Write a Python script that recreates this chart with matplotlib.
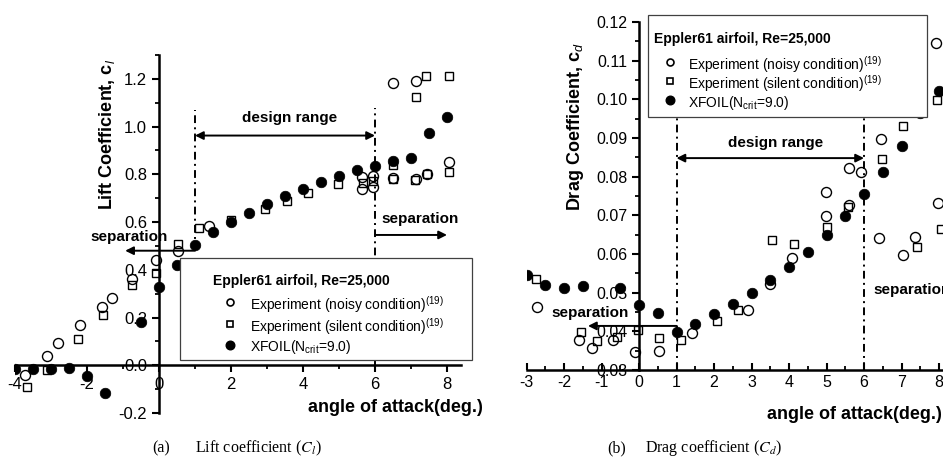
import matplotlib.pyplot as plt
from matplotlib.lines import Line2D
from matplotlib.patches import Rectangle
from matplotlib.ticker import MultipleLocator, FormatStrFormatter

plt.rcParams['font.family'] = ['Liberation Sans', 'DejaVu Sans']
plt.rcParams['mathtext.fontset'] = 'custom'
plt.rcParams['mathtext.rm'] = 'Liberation Sans'
plt.rcParams['mathtext.it'] = 'Liberation Sans:italic'
plt.rcParams['mathtext.bf'] = 'Liberation Sans:bold'

# Lift coefficient
cl_noisy_aoa = [-3.72, -3.1, -2.8, -2.2, -1.57, -1.3, -0.76, -0.08, 0.53, 1.38,
                5.65, 5.65, 5.95, 5.95, 6.5, 6.5, 7.13, 7.13, 7.44, 8.05]
cl_noisy = [-0.04, 0.04, 0.095, 0.167, 0.245, 0.28, 0.36, 0.44, 0.48, 0.585,
            0.79, 0.74, 0.795, 0.745, 1.183, 0.785, 1.19, 0.78, 0.80, 0.85]
cl_silent_aoa = [-3.67, -3.12, -2.24, -1.55, -0.76, -0.07, 0.53, 1.12, 2.0, 2.94,
                 3.55, 4.15, 4.98, 5.67, 5.95, 6.5, 6.5, 7.1, 7.13, 7.42, 7.44, 8.06, 8.06]
cl_silent = [-0.09, -0.02, 0.11, 0.21, 0.335, 0.385, 0.51, 0.575, 0.61, 0.655,
             0.69, 0.72, 0.76, 0.765, 0.77, 0.84, 0.78, 0.775, 1.125, 1.21, 0.80, 1.21, 0.81]
cl_xfoil_aoa = [-4, -3.5, -3, -2.5, -2, -1.5, -0.5, 0, 0.5, 1, 1.5, 2,
                2.5, 3, 3.5, 4, 4.5, 5, 5.5, 6, 6.5, 7, 7.5, 8]
cl_xfoil = [-0.017, -0.017, -0.015, -0.012, -0.045, -0.115, 0.18, 0.33, 0.42, 0.505, 0.56, 0.60,
            0.638, 0.675, 0.71, 0.74, 0.767, 0.793, 0.817, 0.835, 0.855, 0.87, 0.975, 1.04]

# Drag coefficient
cd_noisy_aoa = [-2.73, -1.6, -1.25, -0.7, -0.1, 0.53, 1.42, 2.9, 3.5, 4.08, 4.99,
                4.99, 5.6, 5.6, 5.92, 6.45, 6.4, 7.04, 7.36, 7.93, 7.97]
cd_noisy = [0.0463, 0.0378, 0.0357, 0.0378, 0.0347, 0.0350, 0.0396, 0.0455, 0.0522, 0.0589, 0.0698,
            0.0760, 0.0822, 0.0727, 0.0812, 0.0897, 0.0641, 0.0597, 0.0644, 0.1146, 0.0732]
cd_silent_aoa = [-2.76, -1.55, -1.12, -0.58, -0.03, 0.53, 1.12, 2.08, 2.64, 3.55,
                 4.12, 5.0, 5.57, 6.47, 7.04, 7.4, 7.95, 8.05]
cd_silent = [0.0535, 0.0398, 0.0375, 0.0385, 0.0403, 0.0383, 0.0378, 0.0427, 0.0455, 0.0636,
             0.0626, 0.0670, 0.0722, 0.0846, 0.0931, 0.0617, 0.0998, 0.0665]
cd_xfoil_aoa = [-3, -2.5, -2, -1.5, -0.5, 0, 0.5, 1, 1.5, 2, 2.5,
                3, 3.5, 4, 4.5, 5, 5.5, 6, 6.5, 7, 7.5, 8]
cd_xfoil = [0.0546, 0.0521, 0.0513, 0.0517, 0.0512, 0.0467, 0.0447, 0.0399, 0.0419, 0.0445, 0.0470,
            0.0499, 0.0533, 0.0566, 0.0605, 0.0650, 0.0697, 0.0755, 0.0813, 0.0880, 0.0965, 0.1022]

legend_title = 'Eppler61 airfoil, Re=25,000'
legend_labels = ['Experiment (noisy condition)$^{(19)}$',
                 'Experiment (silent condition)$^{(19)}$',
                 'XFOIL(N$_{\\mathrm{crit}}$=9.0)']

W, H = 943, 468
fig = plt.figure(figsize=(W / 100, H / 100), dpi=100)


def fig_xy(px, py):
    return px / W, 1 - py / H


noisy_style = dict(ls='none', marker='o', ms=7.2, mfc='none', mec='k', mew=1.0)
silent_style = dict(ls='none', marker='s', ms=6.3, mfc='none', mec='k', mew=1.0)
xfoil_style = dict(ls='none', marker='o', ms=7.6, mfc='k', mec='k', mew=0.5)
key_styles = [dict(ls='none', marker='o', ms=5, mfc='none', mec='k', mew=1.2),
              dict(ls='none', marker='s', ms=4.6, mfc='none', mec='k', mew=1.2),
              dict(ls='none', marker='o', ms=6.2, mfc='k', mec='k')]


def style_axes(ax):
    for side in ('top', 'right'):
        ax.spines[side].set_visible(False)
    for side in ('left', 'bottom'):
        ax.spines[side].set_linewidth(1.8)
    ax.tick_params(which='major', width=1.5, length=5, labelsize=12)
    ax.tick_params(which='minor', width=1.3, length=3)


def dashdot(ax, x, y0, y1):
    ax.plot([x, x], [y0, y1], color='k', lw=1.4, ls=(0, (4, 2.2, 1, 2.2)))


def arrow(ax, x0, x1, y, both=False):
    ax.annotate('', xy=(x1, y), xytext=(x0, y),
                arrowprops=dict(arrowstyle='<|-|>' if both else '-|>', color='k', lw=1.4,
                                shrinkA=0, shrinkB=0, mutation_scale=12))


def draw_key(box, title_at, marker_x, text_x, rows_y, fs=10):
    x0, y0, x1, y1 = box
    fx0, fy0 = fig_xy(x0, y1)
    fig.add_artist(Rectangle((fx0, fy0), (x1 - x0) / W, (y1 - y0) / H,
                             transform=fig.transFigure, fc='white', ec='0.25', lw=0.9, zorder=10))
    tx, ty = fig_xy(*title_at)
    fig.text(tx, ty, legend_title, fontsize=fs, fontweight='bold',
             va='center_baseline', zorder=11)
    for style, label, ry in zip(key_styles, legend_labels, rows_y):
        mx, my = fig_xy(marker_x, ry)
        fig.add_artist(Line2D([mx], [my], transform=fig.transFigure, zorder=11, **style))
        lx, ly = fig_xy(text_x, ry)
        fig.text(lx, ly, label, fontsize=fs, va='center_baseline', zorder=11)


# (a) lift coefficient
ax1 = fig.add_axes([15 / W, 1 - 413 / H, 446.4 / W, 358 / H])
ax1.set_xlim(-4, 8.4)
ax1.set_ylim(-0.2, 1.3)
style_axes(ax1)
ax1.spines['left'].set_position(('data', 0))
ax1.spines['bottom'].set_position(('data', 0))
ax1.tick_params(which='both', direction='out')
ax1.xaxis.set_major_locator(MultipleLocator(2))
ax1.xaxis.set_minor_locator(MultipleLocator(1))
ax1.yaxis.set_major_locator(MultipleLocator(0.2))
ax1.yaxis.set_minor_locator(MultipleLocator(0.1))
ax1.xaxis.set_major_formatter(FormatStrFormatter('%d'))
ax1.yaxis.set_major_formatter(FormatStrFormatter('%.1f'))

ax1.plot(cl_noisy_aoa, cl_noisy, **noisy_style)
ax1.plot(cl_silent_aoa, cl_silent, **silent_style)
ax1.plot(cl_xfoil_aoa, cl_xfoil, **xfoil_style)

dashdot(ax1, 1, 0.48, 1.07)
dashdot(ax1, 6, 0.0, 1.08)
arrow(ax1, 1, 6, 0.9625, both=True)
ax1.text(3.64, 1.0375, 'design range', fontsize=11, fontweight='bold', ha='center', va='center')
arrow(ax1, 1, -0.94, 0.48)
ax1.text(-0.83, 0.5375, 'separation', fontsize=11, fontweight='bold', ha='center', va='center')
arrow(ax1, 6, 8.0, 0.546)
ax1.text(6.19, 0.6125, 'separation', fontsize=11, fontweight='bold', ha='left', va='center')

ax1.set_ylabel('Lift Coefficient, c$_{\\mathit{l}}$', fontsize=13, fontweight='bold')
ax1.yaxis.label.set_va('center')
ax1.yaxis.set_label_coords(0.206, 0.777)
ax1.set_xlabel('angle of attack(deg.)', fontsize=13, fontweight='bold')
ax1.xaxis.label.set(ha='right', va='center')
ax1.xaxis.set_label_coords(1.049, 0.014)

# (b) drag coefficient
ax2 = fig.add_axes([526.5 / W, 1 - 370 / H, 423.75 / W, 348 / H])
ax2.set_xlim(-3, 8.3)
ax2.set_ylim(0.03, 0.12)
style_axes(ax2)
ax2.spines['left'].set_position(('data', 0))
ax2.tick_params(axis='x', which='both', direction='in')
ax2.tick_params(axis='y', which='both', direction='out')
ax2.tick_params(which='major', labelsize=11.5)
ax2.xaxis.set_major_locator(MultipleLocator(1))
ax2.xaxis.set_minor_locator(MultipleLocator(0.5))
ax2.yaxis.set_major_locator(MultipleLocator(0.01))
ax2.yaxis.set_minor_locator(MultipleLocator(0.005))
ax2.xaxis.set_major_formatter(FormatStrFormatter('%d'))
ax2.yaxis.set_major_formatter(FormatStrFormatter('%.2f'))

ax2.plot(cd_noisy_aoa, cd_noisy, **noisy_style)
ax2.plot(cd_silent_aoa, cd_silent, **silent_style)
ax2.plot(cd_xfoil_aoa, cd_xfoil, **xfoil_style)

dashdot(ax2, 1, 0.03, 0.1)
dashdot(ax2, 6, 0.03, 0.1)
arrow(ax2, 1, 6, 0.0848, both=True)
ax2.text(3.63, 0.0887, 'design range', fontsize=11, fontweight='bold', ha='center', va='center')
arrow(ax2, 1, -1.36, 0.0414)
ax2.text(-1.3, 0.0448, 'separation', fontsize=11, fontweight='bold', ha='center', va='center')
arrow(ax2, 6, 8.4, 0.0463)
ax2.text(6.24, 0.0507, 'separation', fontsize=11, fontweight='bold', ha='left', va='center')

ax2.set_ylabel('Drag Coefficient, c$_{\\mathit{d}}$', fontsize=13, fontweight='bold')
ax2.yaxis.label.set_va('center')
ax2.yaxis.set_label_coords(0.1145, 0.698)
ax2.set_xlabel('angle of attack(deg.)', fontsize=13, fontweight='bold')
ax2.xaxis.label.set(ha='right', va='center')
ax2.xaxis.set_label_coords(0.9805, -0.129)

# legends drawn on top of the data
draw_key((180, 258, 472, 360), (213, 280), 230, 250, [302, 324, 345])
draw_key((648, 15, 927, 117), (654, 37), 670, 688, [62, 81, 100])

# panel captions
cx, cy = fig_xy(152, 448)
fig.text(cx, cy, '(a)', family='Liberation Serif', fontsize=11.5, va='center')
cx, cy = fig_xy(195, 448)
fig.text(cx, cy, 'Lift coefficient ($C_l$)', family='Liberation Serif',
         math_fontfamily='stix', fontsize=11.5, va='center')
cx, cy = fig_xy(607, 448)
fig.text(cx, cy, '(b)', family='Liberation Serif', fontsize=11.5, va='center')
cx, cy = fig_xy(645, 448)
fig.text(cx, cy, 'Drag coefficient ($C_d$)', family='Liberation Serif',
         math_fontfamily='stix', fontsize=11.5, va='center')

fig.savefig('out.png', dpi=100)
